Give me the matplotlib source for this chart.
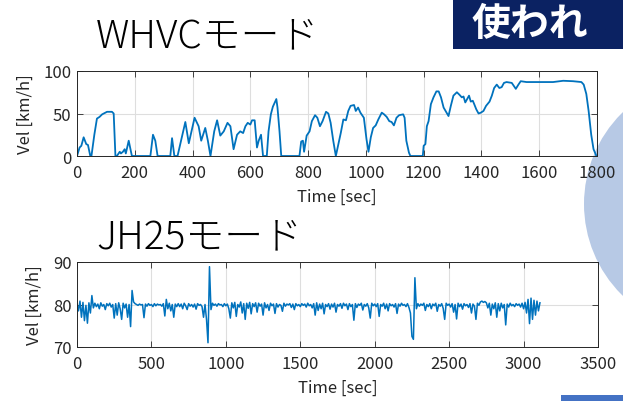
import numpy as np
import matplotlib
matplotlib.use("Agg")
import matplotlib.pyplot as plt
from matplotlib.patches import Rectangle, Ellipse

plt.rcParams['font.family'] = ['Noto Sans CJK JP', 'DejaVu Sans']

# ---------------- data ----------------
title_top = "WHVCモード"
title_bot = "JH25モード"
xlabel = "Time [sec]"
ylabel = "Vel [km/h]"

whvc_t = [0, 9, 15, 23, 32, 38, 46, 50, 60, 69, 78, 87, 98, 104, 121, 127, 133,
          138, 148, 152, 159, 165, 169, 179, 185, 190, 254, 263, 271, 279, 323,
          329, 337, 348, 363, 375, 387, 395, 407, 421, 430, 444, 453, 462, 475,
          485, 496, 508, 521, 531, 542, 554, 565, 575, 583, 591, 600, 606, 615,
          623, 629, 637, 644, 657, 663, 671, 678, 690, 694, 701, 707, 770, 776,
          782, 786, 795, 805, 813, 824, 832, 841, 850, 862, 870, 878, 887, 896,
          905, 913, 922, 931, 939, 947, 959, 965, 973, 981, 993, 1002, 1009,
          1017, 1025, 1034, 1043, 1055, 1063, 1072, 1081, 1089, 1097, 1106,
          1115, 1129, 1134, 1140, 1149, 1154, 1197, 1200, 1206, 1211, 1217,
          1225, 1234, 1244, 1252, 1260, 1269, 1286, 1294, 1303, 1315, 1324,
          1332, 1338, 1344, 1349, 1357, 1363, 1370, 1375, 1382, 1390, 1398,
          1407, 1416, 1428, 1436, 1444, 1453, 1462, 1470, 1478, 1487, 1505,
          1513, 1519, 1528, 1536, 1556, 1614, 1648, 1683, 1717, 1746, 1754,
          1763, 1771, 1780, 1788, 1798]
whvc_v = [0, 10, 12, 22, 14, 13, 0, 0, 25, 44, 46, 49, 51, 52, 52, 50, 0,
          0, 5, 3, 5, 8, 3, 18, 8, 0, 0, 25, 18, 0, 0,
          21, 0, 0, 22, 40, 15, 27, 45, 35, 18, 33, 18, 0, 29,
          42, 24, 29, 39, 35, 8, 25, 29, 27, 35, 39, 37, 42, 42,
          10, 18, 25, 0, 0, 29, 49, 58, 67, 57, 29, 0, 0, 17,
          18, 5, 24, 29, 41, 48, 45, 35, 41, 52, 50, 39, 18, 0,
          14, 27, 43, 42, 53, 59, 60, 53, 57, 51, 45, 20, 5,
          22, 33, 36, 43, 51, 49, 46, 41, 40, 36, 45,
          48, 49, 45, 18, 4, 0, 0, 12, 14, 35, 41,
          61, 69, 76, 76, 69, 57, 47, 59, 71, 75, 72,
          69, 70, 63, 66, 71, 64, 65, 61, 55, 50, 51,
          53, 59, 64, 71, 80, 84, 80, 81, 86, 87, 86,
          82, 79, 84, 88, 87, 87, 87, 88.5, 88, 87, 84,
          73, 53, 25, 8, 0]

# JH25: 10-second samples (rows of 100 s)
jh_v = [
    80.2, 78.5, 80.8, 77.0, 80.5, 76.2, 79.8, 75.6, 80.4, 78.0,   # 0
    82.1, 79.2, 80.3, 79.5, 80.1, 79.0, 80.4, 79.6, 80.0, 78.8,   # 100
    80.2, 79.7, 80.3, 79.4, 80.0, 76.8, 80.2, 77.5, 80.4, 79.0,   # 200
    76.5, 80.3, 79.2, 80.1, 77.0, 80.0, 74.8, 83.3, 80.6, 80.2,   # 300
    80.0, 79.8, 80.1, 79.9, 80.0, 76.9, 80.1, 79.6, 80.2, 79.8,   # 400
    80.0, 79.5, 80.2, 79.7, 80.1, 79.9, 80.0, 79.6, 80.2, 77.3,   # 500
    81.2, 79.0, 80.3, 78.5, 80.0, 77.0, 80.1, 79.5, 80.2, 79.5,   # 600
    80.1, 79.0, 80.3, 79.7, 78.8, 80.2, 79.6, 80.0, 79.4, 80.1,   # 700
    78.9, 80.2, 79.8, 80.0, 79.5, 77.0, 80.0, 76.5, 71.0, 88.9,   # 800
    78.8, 80.3, 79.8, 80.1, 79.6, 80.2, 79.9, 80.0, 79.5, 80.2,   # 900
    79.7, 80.1, 79.0, 76.8, 80.4, 79.2, 80.5, 77.2, 80.0, 79.4,   # 1000
    80.6, 78.0, 80.2, 76.5, 80.3, 79.1, 80.5, 77.8, 80.2, 79.5,   # 1100
    80.4, 78.2, 80.3, 79.6, 80.1, 77.5, 80.4, 79.2, 80.0, 78.6,   # 1200
    80.3, 79.7, 80.1, 77.9, 80.2, 79.4, 80.0, 79.8, 78.4, 80.3,   # 1300
    79.6, 80.1, 79.9, 80.2, 79.3, 80.1, 78.8, 80.2, 79.7, 80.0,   # 1400
    79.5, 80.2, 79.8, 80.1, 79.4, 80.3, 79.7, 80.0, 79.2, 80.2,   # 1500
    77.5, 80.4, 78.6, 80.1, 79.0, 80.3, 77.8, 80.0, 79.5, 80.2,   # 1600
    78.9, 80.1, 79.4, 80.3, 78.2, 80.0, 79.6, 80.2, 79.1, 80.3,   # 1700
    79.7, 80.1, 78.8, 80.2, 79.5, 80.0, 76.3, 80.2, 79.3, 80.1,   # 1800
    79.8, 80.3, 78.7, 80.0, 79.6, 80.2, 79.2, 76.8, 80.3, 79.7,   # 1900
    80.1, 79.5, 80.2, 77.2, 80.0, 79.6, 80.3, 79.0, 80.1, 78.5,   # 2000
    80.2, 79.7, 80.0, 79.4, 80.2, 77.9, 80.1, 79.6, 80.3, 79.8,   # 2100
    80.0, 79.5, 80.2, 79.3, 78.0, 72.5, 71.8, 86.3, 79.0, 80.2,   # 2200
    79.6, 80.1, 79.8, 80.3, 78.6, 80.0, 79.5, 80.2, 79.0, 80.1,   # 2300
    79.7, 80.3, 78.4, 80.0, 79.6, 80.2, 79.1, 76.5, 80.3, 79.8,   # 2400
    80.1, 79.4, 80.2, 78.2, 80.0, 76.6, 80.3, 79.5, 80.1, 78.9,   # 2500
    80.2, 79.7, 80.0, 79.3, 80.2, 78.0, 80.1, 79.6, 76.5, 80.3,   # 2600
    79.8, 80.6, 80.8, 80.5, 80.7, 80.4, 79.2, 80.3, 77.5, 80.1,   # 2700
    79.0, 80.4, 77.0, 80.2, 78.5, 80.3, 79.2, 80.0, 75.2, 80.1,   # 2800
    79.4, 80.3, 79.7, 80.0, 79.5, 80.2, 79.8, 80.1, 79.4, 80.3,   # 2900
    79.0, 80.5, 78.0, 81.2, 75.5, 81.5, 76.5, 81.0, 77.5, 80.8,   # 3000
    78.5, 80.4,                                                   # 3100
]
jh_t = np.arange(len(jh_v)) * 10

top_xticks = list(range(0, 1801, 200))
top_yticks = [0, 50, 100]
bot_xticks = list(range(0, 3501, 500))
bot_yticks = [70, 80, 90]

# ---------------- figure ----------------
W, H = 623, 402
fig = plt.figure(figsize=(W / 100, H / 100), dpi=100)
fig.patch.set_facecolor('white')

def fx(px):
    return px / W

def fy(py):
    return 1 - py / H

# slide decorations (behind the axes)
fig.patches.append(Rectangle((fx(453), fy(50)), fx(170), 50 / H,
                             transform=fig.transFigure, facecolor='#0b2262',
                             edgecolor='none', zorder=-2))
fig.text(fx(472), fy(36), "使われ", color='white', fontsize=28,
         fontweight='bold', va='baseline', ha='left', zorder=-1)
fig.patches.append(Ellipse((fx(712), fy(205)), 2 * 128 / W, 2 * 128 / H,
                           transform=fig.transFigure, facecolor='#b7c9e5',
                           edgecolor='none', zorder=-2))
fig.patches.append(Rectangle((fx(561), fy(402)), fx(62), 6 / H,
                             transform=fig.transFigure, facecolor='#4472c4',
                             edgecolor='none', zorder=-2))

line_color = '#0072BD'
ax_color = '#262626'

def style(ax, xlim, ylim, xt, yt):
    ax.set_facecolor('none')
    ax.set_xlim(*xlim)
    ax.set_ylim(*ylim)
    ax.set_xticks(xt)
    ax.set_yticks(yt)
    ax.grid(True, color='#dedede', linewidth=0.8)
    ax.set_axisbelow(True)
    ax.tick_params(direction='in', length=4, width=0.6, top=True, right=True,
                   colors=ax_color, labelsize=12)
    ax.tick_params(axis='x', pad=6)
    ax.tick_params(axis='y', pad=4)
    for s in ax.spines.values():
        s.set_color(ax_color)
        s.set_linewidth(0.7)
    ax.set_xlabel(xlabel, fontsize=12, color=ax_color, labelpad=5)
    ax.set_ylabel(ylabel, fontsize=12, color=ax_color, labelpad=7)

ax1 = fig.add_axes([fx(77), fy(157), fx(597) - fx(77), 85 / H])
ax1.plot(whvc_t, whvc_v, color=line_color, linewidth=1.3)
style(ax1, (0, 1800), (0, 100), top_xticks, top_yticks)

ax2 = fig.add_axes([fx(77), fy(348), fx(598) - fx(77), 85 / H])
ax2.plot(jh_t, jh_v, color=line_color, linewidth=1.1)
style(ax2, (0, 3500), (70, 90), bot_xticks, bot_yticks)

fig.text(fx(96), fy(47), title_top, fontsize=28, color='black',
         fontweight='light', va='baseline', ha='left')
fig.text(fx(96), fy(248), title_bot, fontsize=28, color='black',
         fontweight='light', va='baseline', ha='left')

fig.savefig("out.png", dpi=100)
